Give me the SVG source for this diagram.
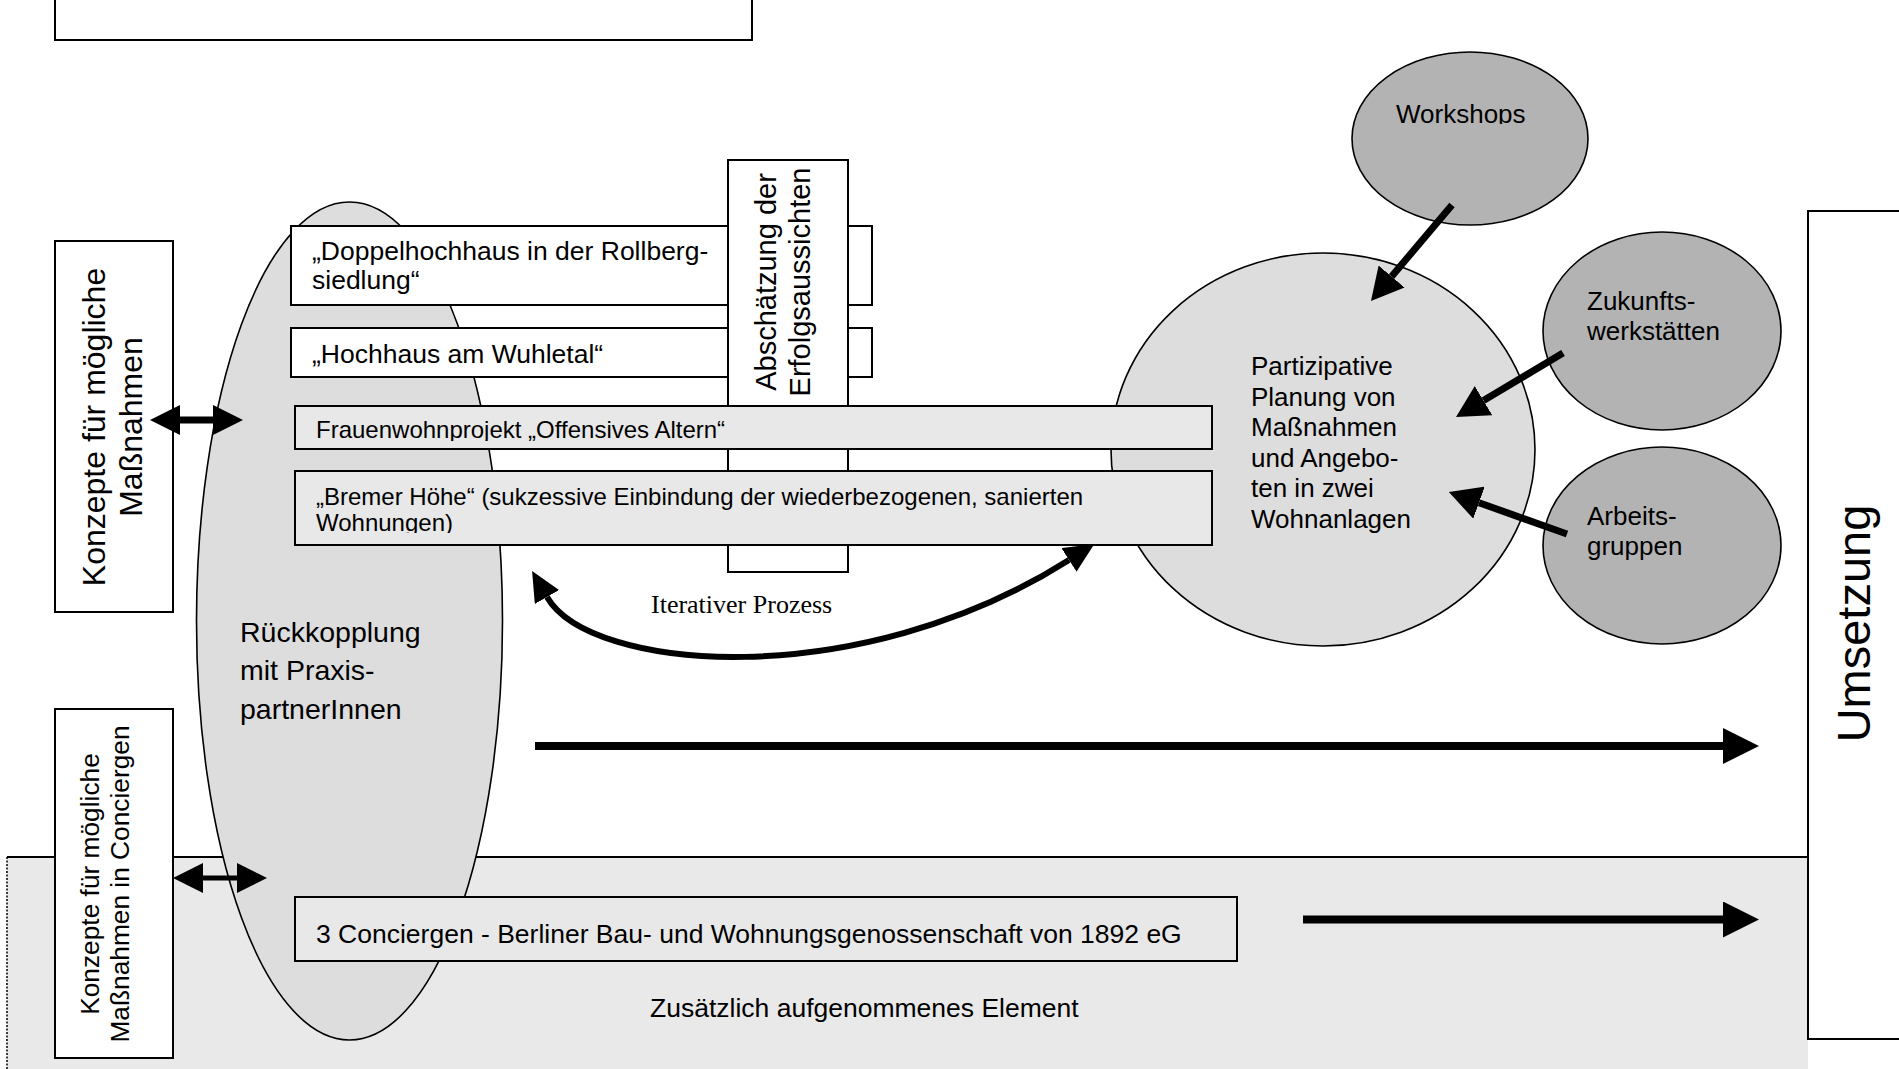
<svg xmlns="http://www.w3.org/2000/svg" width="1899" height="1069" viewBox="0 0 1899 1069">
<style>
  .t { font-family: "Liberation Sans", Arial, sans-serif; fill: #000; }
  .box { stroke: #000; stroke-width: 2; }
  .white { fill: #fff; }
  .lgray { fill: #e8e8e8; }
  .ell { fill: #dddddd; stroke: #000; stroke-width: 1.6; }
  .dark { fill: #b3b3b3; stroke: #000; stroke-width: 1.6; }
  .conn { stroke: #000; fill: none; }
</style>
<defs>
  <marker id="headBig" markerUnits="userSpaceOnUse" markerWidth="36" markerHeight="36" viewBox="0 0 36 36" refX="0" refY="18" orient="auto-start-reverse">
    <path d="M0,0 L36,18 L0,36 z" fill="#000"/>
  </marker>
  <marker id="headMid" markerUnits="userSpaceOnUse" markerWidth="32" markerHeight="34" viewBox="0 0 32 34" refX="0" refY="17" orient="auto-start-reverse">
    <path d="M0,0 L32,17 L0,34 z" fill="#000"/>
  </marker>
  <marker id="headSmall" markerUnits="userSpaceOnUse" markerWidth="30" markerHeight="30" viewBox="0 0 30 30" refX="0" refY="15" orient="auto-start-reverse">
    <path d="M0,0 L30,15 L0,30 z" fill="#000"/>
  </marker>
  <marker id="headCurve" markerUnits="userSpaceOnUse" markerWidth="30" markerHeight="28" viewBox="0 0 30 28" refX="0" refY="14" orient="auto-start-reverse">
    <path d="M0,0 L30,14 L0,28 z" fill="#000"/>
  </marker>
  <clipPath id="clipFrauen"><rect x="296" y="407" width="915" height="34"/></clipPath>
  <clipPath id="clipBremer"><rect x="296" y="472" width="915" height="61"/></clipPath>
  <clipPath id="clipWork"><rect x="1352" y="52" width="236" height="72"/></clipPath>
</defs>

<!-- background band for additional element -->
<g id="zusatz-band">
  <rect x="7" y="857" width="1801" height="220" fill="#e9e9e9"/>
  <line x1="7" y1="857" x2="1808" y2="857" stroke="#000" stroke-width="2"/>
  <line x1="7" y1="857" x2="7" y2="1069" stroke="#000" stroke-width="1.5" stroke-dasharray="2,1.5"/>
  <text class="t" x="650" y="1017" font-size="26.5">Zusätzlich aufgenommenes Element</text>
</g>

<!-- top box -->
<g id="top-box">
  <rect class="box white" x="55" y="-10" width="697" height="50"/>
</g>

<!-- feedback ellipse -->
<g id="rueckkopplung">
  <ellipse class="ell" cx="349.5" cy="621" rx="153" ry="419"/>
  <text class="t" font-size="28.5">
    <tspan x="240" y="642">Rückkopplung</tspan>
    <tspan x="240" y="680">mit Praxis-</tspan>
    <tspan x="240" y="719">partnerInnen</tspan>
  </text>
</g>

<!-- Konzepte upper -->
<g id="konzepte-massnahmen">
  <rect class="box white" x="55" y="241" width="118" height="371"/>
  <text class="t" font-size="32" text-anchor="middle" transform="translate(105,427) rotate(-90)">Konzepte für mögliche</text>
  <text class="t" font-size="32" text-anchor="middle" transform="translate(142,427) rotate(-90)">Maßnahmen</text>
</g>

<!-- Konzepte lower -->
<g id="konzepte-conciergen">
  <rect class="box white" x="55" y="709" width="118" height="349"/>
  <text class="t" font-size="26.3" text-anchor="middle" transform="translate(99,884) rotate(-90)">Konzepte für mögliche</text>
  <text class="t" font-size="26.3" text-anchor="middle" transform="translate(129,884) rotate(-90)">Maßnahmen in Conciergen</text>
</g>

<!-- project boxes -->
<g id="doppelhochhaus">
  <rect class="box white" x="291" y="226" width="581" height="79"/>
  <text class="t" font-size="26.5">
    <tspan x="312" y="260">„Doppelhochhaus in der Rollberg-</tspan>
    <tspan x="312" y="289">siedlung“</tspan>
  </text>
</g>
<g id="hochhaus-wuhletal">
  <rect class="box white" x="291" y="328" width="581" height="49"/>
  <text class="t" x="312" y="363" font-size="26.5">„Hochhaus am Wuhletal“</text>
</g>

<g id="abschaetzung">
  <rect class="box white" x="728" y="160" width="120" height="412"/>
  <text class="t" font-size="29" text-anchor="middle" transform="translate(776,282) rotate(-90)">Abschätzung der</text>
  <text class="t" font-size="29" text-anchor="middle" transform="translate(810,282) rotate(-90)">Erfolgsaussichten</text>
</g>

<!-- participative planning ellipse -->
<g id="partizipative-planung">
  <ellipse class="ell" cx="1323" cy="449.5" rx="212" ry="196.5"/>
  <text class="t" font-size="26">
    <tspan x="1251" y="375">Partizipative</tspan>
    <tspan x="1251" y="405.5">Planung von</tspan>
    <tspan x="1251" y="436">Maßnahmen</tspan>
    <tspan x="1251" y="467">und Angebo-</tspan>
    <tspan x="1251" y="497">ten in zwei</tspan>
    <tspan x="1251" y="528">Wohnanlagen</tspan>
  </text>
</g>

<g id="frauenwohnprojekt">
  <rect class="box lgray" x="295" y="406" width="917" height="43"/>
  <text class="t" x="316" y="438" font-size="24" clip-path="url(#clipFrauen)">Frauenwohnprojekt „Offensives Altern“</text>
</g>
<g id="bremer-hoehe">
  <rect class="box lgray" x="295" y="471" width="917" height="74"/>
  <g clip-path="url(#clipBremer)">
    <text class="t" font-size="24">
      <tspan x="316" y="505">„Bremer Höhe“ (sukzessive Einbindung der wiederbezogenen, sanierten</tspan>
      <tspan x="316" y="531">Wohnungen)</tspan>
    </text>
  </g>
</g>

<g id="workshops">
  <ellipse class="dark" cx="1470" cy="138.5" rx="118" ry="86.5"/>
  <text class="t" x="1396" y="123" font-size="26" clip-path="url(#clipWork)">Workshops</text>
</g>
<g id="zukunftswerkstaetten">
  <ellipse class="dark" cx="1662" cy="331" rx="119" ry="99"/>
  <text class="t" font-size="26">
    <tspan x="1587" y="310">Zukunfts-</tspan>
    <tspan x="1587" y="340">werkstätten</tspan>
  </text>
</g>
<g id="arbeitsgruppen">
  <ellipse class="dark" cx="1662" cy="545.5" rx="119" ry="98.5"/>
  <text class="t" font-size="26">
    <tspan x="1587" y="525">Arbeits-</tspan>
    <tspan x="1587" y="555">gruppen</tspan>
  </text>
</g>

<g id="conciergen">
  <rect class="box lgray" x="295" y="897" width="942" height="64"/>
  <text class="t" x="316" y="943" font-size="26.5">3 Conciergen - Berliner Bau- und Wohnungsgenossenschaft von 1892 eG</text>
</g>

<g id="umsetzung">
  <rect class="box white" x="1808" y="211" width="110" height="828"/>
  <text class="t" font-size="47" text-anchor="middle" transform="translate(1870,623.5) rotate(-90)">Umsetzung</text>
</g>

<g id="iterativ-label">
  <text x="651" y="613" font-family="'Liberation Serif', 'Times New Roman', serif" font-size="26">Iterativer Prozess</text>
</g>

<!-- connectors -->
<g id="connectors" class="conn">
  <line x1="180" y1="420" x2="213" y2="420" stroke-width="7" marker-start="url(#headSmall)" marker-end="url(#headSmall)"/>
  <line x1="203" y1="878" x2="237" y2="878" stroke-width="5" marker-start="url(#headSmall)" marker-end="url(#headSmall)"/>
  <path d="M547,597 C590,672 858,694 1069,560" stroke-width="6" marker-start="url(#headCurve)" marker-end="url(#headCurve)"/>
  <line x1="535" y1="746" x2="1723" y2="746" stroke-width="8" marker-end="url(#headBig)"/>
  <line x1="1303" y1="919.5" x2="1723" y2="919.5" stroke-width="8" marker-end="url(#headBig)"/>
  <line x1="1452" y1="205" x2="1391.6" y2="276.5" stroke-width="7" marker-end="url(#headMid)"/>
  <line x1="1563" y1="353" x2="1483.5" y2="400.6" stroke-width="7" marker-end="url(#headMid)"/>
  <line x1="1567" y1="534" x2="1479" y2="502.7" stroke-width="7" marker-end="url(#headMid)"/>
</g>
</svg>
